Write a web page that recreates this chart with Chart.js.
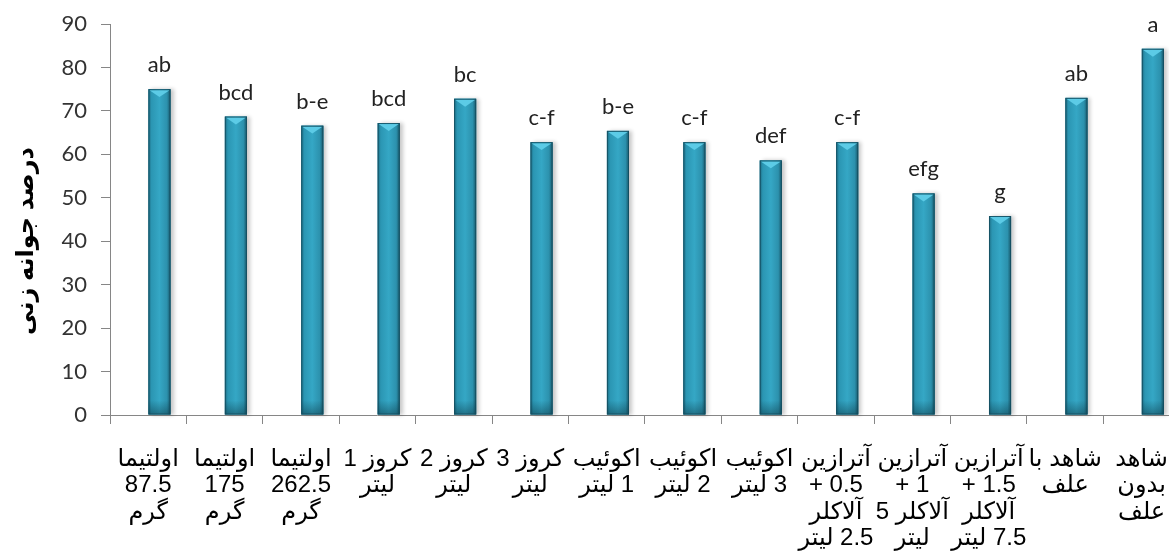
<!DOCTYPE html>
<html><head><meta charset="utf-8">
<script src="https://cdn.jsdelivr.net/npm/chart.js@4/dist/chart.umd.min.js"></script>
<style>
html,body{margin:0;padding:0;overflow:hidden;background:#fff;width:1169px;height:558px}
canvas{display:block;direction:rtl}
</style></head>
<body><canvas id="c" width="1190" height="558"></canvas>
<script>
const categories = [
  ["اولتیما","87.5","گرم"],
  ["اولتیما","175","گرم"],
  ["اولتیما","262.5","گرم"],
  ["کروز 1","لیتر"],
  ["کروز 2","لیتر"],
  ["کروز 3","لیتر"],
  ["اکوئیب","1 لیتر"],
  ["اکوئیب","2 لیتر"],
  ["اکوئیب","3 لیتر"],
  ["آترازین","0.5 +","آلاکلر","2.5 لیتر"],
  ["آترازین","1 +","آلاکلر 5","لیتر"],
  ["آترازین","1.5 +","آلاکلر","7.5 لیتر"],
  ["شاهد با","علف"],
  ["شاهد","بدون","علف"]
];
const germination = [75.0, 68.7, 66.6, 67.2, 72.8, 62.8, 65.4, 62.8, 58.6, 62.8, 51.0, 45.8, 73.0, 84.3];
const groupLetters = ["ab","bcd","b-e","bcd","bc","c-f","b-e","c-f","def","c-f","efg","g","ab","a"];
const placeholder = categories.map(() => null);
const yMin = 0, yMax = 90, yStep = 10;
const yTitle = "درصد جوانه زنی";

const barDecor = {
  id: 'barDecor',
  afterDatasetsDraw(chart) {
    const ctx = chart.ctx;
    const meta = chart.getDatasetMeta(1);
    meta.data.forEach((bar, i) => {
      const p = bar.getProps(['x', 'y', 'base', 'width'], true);
      const l = p.x - p.width / 2, r = p.x + p.width / 2, h = p.base - p.y;
      ctx.save();
      ctx.shadowColor = 'rgba(0,0,0,0.22)';
      ctx.shadowBlur = 4;
      ctx.shadowOffsetX = 3;
      ctx.fillStyle = '#2a97b4';
      ctx.fillRect(l, p.y, p.width, h);
      ctx.restore();
      ctx.save();
      const g = ctx.createLinearGradient(l, 0, r, 0);
      g.addColorStop(0, '#1c6c83');
      g.addColorStop(0.14, '#2b96b3');
      g.addColorStop(0.5, '#35a7c5');
      g.addColorStop(0.84, '#2c91ad');
      g.addColorStop(1, '#175668');
      ctx.fillStyle = g;
      ctx.fillRect(l, p.y, p.width, h);
      const gv = ctx.createLinearGradient(0, p.base - 14, 0, p.base);
      gv.addColorStop(0, 'rgba(10,50,62,0)');
      gv.addColorStop(1, 'rgba(10,50,62,0.45)');
      ctx.fillStyle = gv;
      ctx.fillRect(l, p.base - 14, p.width, 14);
      ctx.fillStyle = '#5ccbe6';
      ctx.beginPath();
      ctx.moveTo(l + 1, p.y + 1);
      ctx.lineTo(r - 1, p.y + 1);
      ctx.lineTo(p.x, p.y + p.width * 0.36);
      ctx.closePath();
      ctx.fill();
      ctx.strokeStyle = 'rgba(20,75,92,0.8)';
      ctx.lineWidth = 1;
      ctx.strokeRect(l + 0.5, p.y + 0.5, p.width - 1, h - 1);
      ctx.restore();

      ctx.save();
      ctx.fillStyle = '#222';
      ctx.font = '22px Lato';
      ctx.textAlign = 'center';
      ctx.textBaseline = 'alphabetic';
      ctx.fillText(groupLetters[i], p.x, p.y - 17);
      ctx.restore();
    });
  },
  afterDraw(chart) {
    const ctx = chart.ctx;
    ctx.save();
    ctx.translate(26, 241);
    ctx.rotate(-Math.PI / 2);
    ctx.fillStyle = '#000';
    ctx.font = "bold 24px 'Liberation Sans', 'DejaVu Sans', sans-serif";
    ctx.textAlign = 'center';
    ctx.textBaseline = 'middle';
    ctx.fillText(yTitle, 0, 0);
    ctx.restore();
  }
};

new Chart(document.getElementById('c'), {
  type: 'bar',
  data: {
    labels: categories,
    datasets: [
      { data: placeholder, backgroundColor: 'rgba(0,0,0,0)' },
      { data: germination, backgroundColor: 'rgba(0,0,0,0)' }
    ]
  },
  options: {
    responsive: false,
    animation: false,
    devicePixelRatio: 1,
    categoryPercentage: 0.59,
    barPercentage: 0.98,
    layout: { padding: { top: 24, right: 2, left: 0, bottom: 0 } },
    plugins: { legend: { display: false }, tooltip: { enabled: false } },
    scales: {
      x: {
        grid: { drawOnChartArea: false, tickLength: 9, color: '#868686', offset: true },
        border: { color: '#868686', width: 1 },
        ticks: {
          color: '#000', autoSkip: false, maxRotation: 0, minRotation: 0, padding: 22,
          font: { family: "'Liberation Sans', 'DejaVu Sans', sans-serif", size: 24, lineHeight: 1.1 }
        },
        afterFit(s) { s.height = 143; }
      },
      y: {
        min: yMin, max: yMax,
        ticks: { stepSize: yStep, color: '#333', padding: 14, font: { family: 'Lato', size: 22 } },
        grid: { drawOnChartArea: false, tickLength: 9, color: '#868686' },
        border: { color: '#868686', width: 1 },
        afterFit(s) { s.width = 110; s.paddingTop = 0; s.paddingBottom = 0; }
      }
    }
  },
  plugins: [barDecor]
});
</script>
</body></html>
